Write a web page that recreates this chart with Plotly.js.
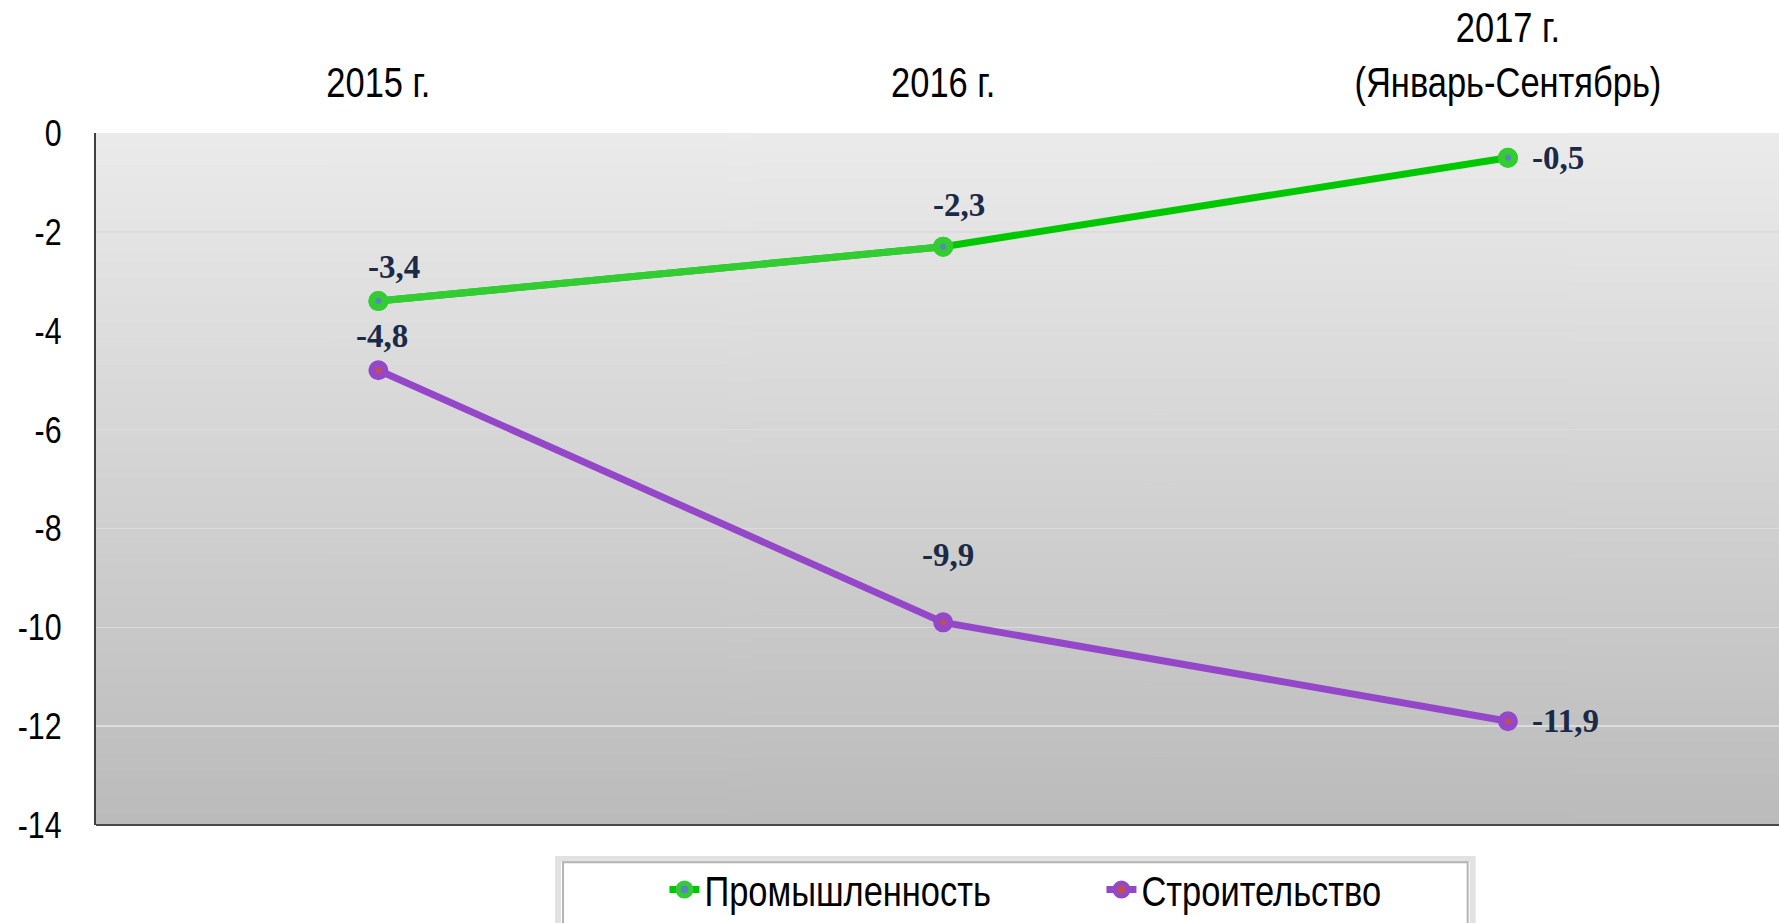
<!DOCTYPE html>
<html>
<head>
<meta charset="utf-8">
<script src="https://cdn.plot.ly/plotly-3.0.1.min.js"></script>
<style>html,body{margin:0;padding:0;background:#fff}#chart{width:1779px;height:923px}</style>
</head>
<body>
<div id="chart"></div>
<script>
// ---- data ----
const categories = ["2015 г.", "2016 г.", "2017 г.<br>(Январь-Сентябрь)"];
const seriesNames = ["Промышленность", "Строительство"];
const promValues = [-3.4, -2.3, -0.5];
const stroiValues = [-4.8, -9.9, -11.9];
const promLabels = ["-3,4", "-2,3", "-0,5"];
const stroiLabels = ["-4,8", "-9,9", "-11,9"];
const yTickValues = [0, -2, -4, -6, -8, -10, -12, -14];
const yTickLabels = ["0", "-2", "-4", "-6", "-8", "-10", "-12", "-14"];

// ---- styles ----
const sansFont = '"Liberation Sans", Arial, sans-serif';
const serifFont = '"Liberation Serif", "Times New Roman", serif';
const labelColor = '#1b2a47';
const green = '#00c800', greenLight = '#33cc33', purple = '#9447c9';
const narrowFactor = 0.82; // emulate a narrow sans face

// label offsets (px) per point: [xshift, yshift, xanchor]
const promOffsets = [[16, 34, 'center'], [16, 42, 'center'], [22, 0, 'left']];
const stroiOffsets = [[4, 34, 'center'], [5, 67, 'center'], [22, 0, 'left']];

// gradient background image
function gradientURL() {
  const c = document.createElement('canvas');
  c.width = 4; c.height = 512;
  const g = c.getContext('2d');
  const gr = g.createLinearGradient(0, 0, 0, 512);
  gr.addColorStop(0, '#ebebeb');
  gr.addColorStop(1, '#bbbbbb');
  g.fillStyle = gr; g.fillRect(0, 0, 4, 512);
  return c.toDataURL('image/png');
}

const markerBase = {symbol: 'circle', size: 13};
const traces = [
  {x: categories, y: promValues, name: seriesNames[0], type: 'scatter', mode: 'lines+markers',
   line: {color: green, width: 7},
   marker: Object.assign({}, markerBase, {color: '#5a86c0', line: {color: greenLight, width: 7}}),
   hoverinfo: 'skip'},
  {x: categories.slice(0, 2), y: promValues.slice(0, 2), type: 'scatter', mode: 'lines',
   line: {color: greenLight, width: 7}, showlegend: false, hoverinfo: 'skip'},
  {x: categories, y: promValues, type: 'scatter', mode: 'markers', showlegend: false,
   marker: Object.assign({}, markerBase, {color: '#5a86c0', line: {color: greenLight, width: 7}}),
   hoverinfo: 'skip'},
  {x: categories, y: stroiValues, name: seriesNames[1], type: 'scatter', mode: 'lines+markers',
   line: {color: purple, width: 7},
   marker: Object.assign({}, markerBase, {color: '#c0504d', line: {color: purple, width: 7}}),
   hoverinfo: 'skip'}
];

const annotations = [];
function addLabels(vals, labels, offs) {
  vals.forEach((v, i) => {
    annotations.push({
      x: categories[i], y: v, xref: 'x', yref: 'y', text: labels[i], showarrow: false,
      xanchor: offs[i][2], yanchor: 'middle', xshift: offs[i][0], yshift: offs[i][1],
      font: {family: serifFont, size: 33, color: labelColor, weight: 'bold'}
    });
  });
}
addLabels(promValues, promLabels, promOffsets);
addLabels(stroiValues, stroiLabels, stroiOffsets);

const layout = {
  width: 1779, height: 923,
  margin: {l: 96, r: 0, t: 133, b: 98, pad: 0},
  paper_bgcolor: '#ffffff',
  plot_bgcolor: 'rgba(0,0,0,0)',
  showlegend: true,
  xaxis: {
    type: 'category', side: 'top', range: [-0.5, 2.48],
    showgrid: false, zeroline: false, showline: false, ticks: '',
    ticklabelstandoff: 27,
    tickfont: {family: sansFont, size: 42, color: '#000'},
    fixedrange: true
  },
  yaxis: {
    range: [-14, 0], tickvals: yTickValues, ticktext: yTickLabels,
    showgrid: true, gridcolor: '#dcdcdc', gridwidth: 1.5,
    zeroline: false, showline: true, linecolor: '#404040', linewidth: 2,
    ticks: '', ticklabelstandoff: 25,
    tickfont: {family: sansFont, size: 37, color: '#000'},
    fixedrange: true
  },
  images: [{
    source: gradientURL(), xref: 'paper', yref: 'paper', x: 0, y: 1, sizex: 1, sizey: 1,
    sizing: 'stretch', xanchor: 'left', yanchor: 'top', layer: 'below'
  }],
  shapes: [
    {type: 'line', xref: 'paper', yref: 'paper', x0: 0, x1: 1, y0: 0, y1: 0,
     line: {color: '#4a4a4a', width: 2}},
    {type: 'rect', xref: 'paper', yref: 'paper', x0: 0.2745, x1: 0.818, y0: -0.16, y1: -0.049,
     line: {color: '#e2e2e2', width: 6}, fillcolor: '#ffffff', layer: 'below'},
    {type: 'rect', xref: 'paper', yref: 'paper', x0: 0.2775, x1: 0.815, y0: -0.16, y1: -0.054,
     line: {color: '#b4b4b4', width: 2}, fillcolor: 'rgba(0,0,0,0)', layer: 'below'}
  ],
  legend: {
    orientation: 'h', xref: 'container', yref: 'container',
    x: 0.3735, xanchor: 'left', y: 0.036, yanchor: 'middle',
    bgcolor: 'rgba(0,0,0,0)', borderwidth: 0,
    entrywidth: 392,
    font: {family: sansFont, size: 42, color: '#000'}
  },
  annotations: annotations
};

function narrowText(gd) {
  gd.querySelectorAll('.xtick text, .ytick text, .legendtext').forEach(t => {
    const lines = t.querySelectorAll('tspan.line');
    const els = lines.length ? Array.from(lines) : [t];
    els.forEach(el => {
      const w = el.getComputedTextLength();
      if (w > 0) {
        el.setAttribute('textLength', (w * narrowFactor).toFixed(1));
        el.setAttribute('lengthAdjust', 'spacingAndGlyphs');
      }
    });
  });
}

Plotly.newPlot('chart', traces, layout, {displayModeBar: false, staticPlot: true})
  .then(gd => narrowText(gd));
</script>
</body>
</html>
